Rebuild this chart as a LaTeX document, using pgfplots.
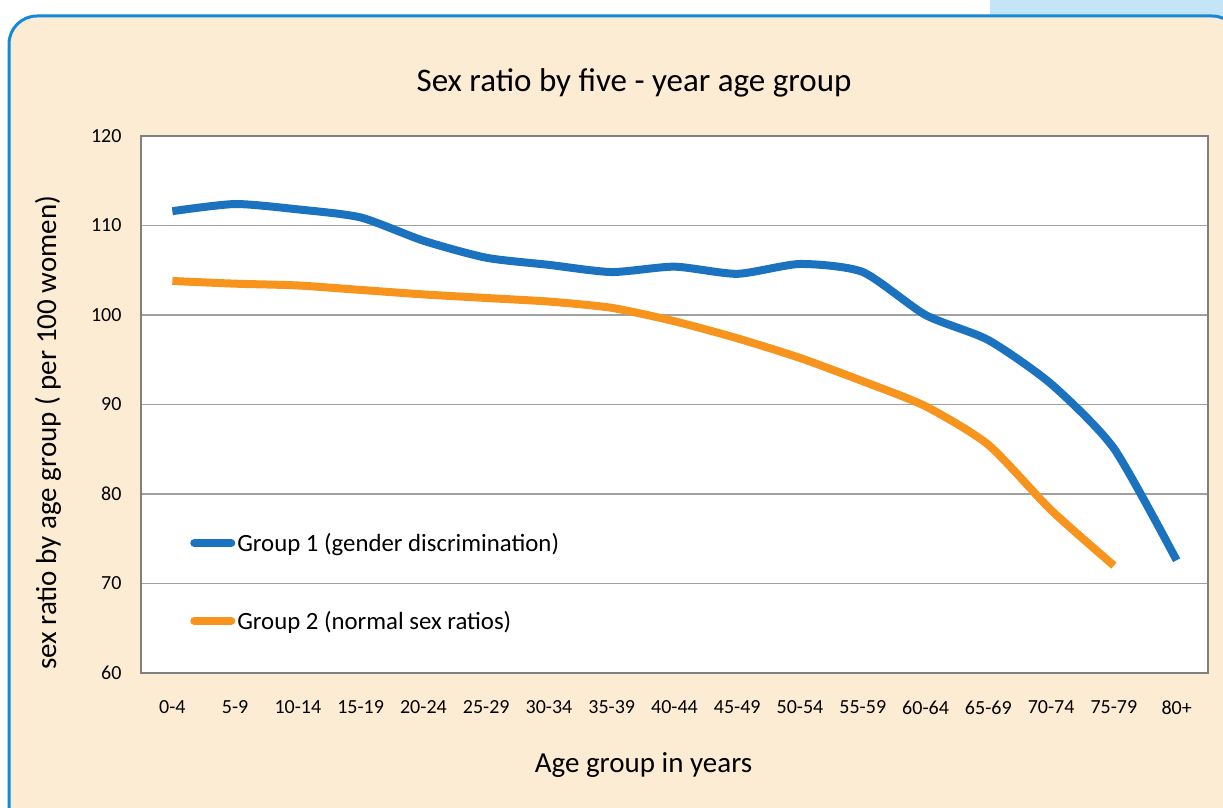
\documentclass[border=0pt]{standalone}
\usepackage{pgfplots}
\pgfplotsset{compat=1.18}
\usepackage{fontspec}
\setmainfont{Carlito}
\definecolor{panelfill}{HTML}{FDECD4}
\definecolor{panelborder}{HTML}{1589D9}
\definecolor{lightblue}{HTML}{C4E4F7}
\definecolor{gblue}{HTML}{1B72BE}
\definecolor{gorange}{HTML}{F7941D}
\definecolor{gridgray}{HTML}{A0A0A0}
\definecolor{framegray}{HTML}{808080}
\begin{document}
\begin{tikzpicture}[x=1pt,y=1pt]
\clip (0,0) rectangle (1223,808);
\fill[white] (0,0) rectangle (1223,808);
\fill[lightblue] (990,780) rectangle (1223,808);
\draw[panelborder, line width=3pt, fill=panelfill, rounded corners=28pt] (9,-30) rectangle (1240,792);
\begin{axis}[
  at={(141pt,135pt)}, anchor=south west,
  scale only axis, width=1067pt, height=537pt,
  xmin=-0.5, xmax=16.5, ymin=60, ymax=120,
  ytick={60,70,...,120},
  xtick={0,...,16},
  xticklabels={0-4,5-9,10-14,15-19,20-24,25-29,30-34,35-39,40-44,45-49,50-54,55-59,60-64,65-69,70-74,75-79,80+},
  /pgf/number format/assume math mode=true,
  tick style={draw=none},
  ymajorgrids, grid style={gridgray, line width=1.2pt},
  axis line style={framegray, line width=1.5pt},
  axis background/.style={fill=white},
  ticklabel style={font=\fontsize{20}{24}\selectfont, black},
  yticklabel style={xshift=-16pt},
  xticklabel style={yshift=-24pt},
  xlabel={Age group in years},
  ylabel={sex ratio by age group ( per 100 women)},
  label style={font=\fontsize{29}{34}\selectfont},
  xlabel style={at={(axis description cs:0.471,-0.171)}, anchor=center},
  ylabel style={at={(axis description cs:-0.0872,0.447)}, anchor=center},
  legend style={draw=none, fill=none, at={(axis description cs:0.046,0.1695)}, anchor=west,
     font=\fontsize{24.8}{29}\selectfont, inner sep=0pt, row sep=54pt, cells={anchor=west}},
  legend cell align=left,
  legend image code/.code={\draw[#1, line cap=round] (0pt,0pt) -- (37pt,0pt);},
]
\addplot[gblue, line width=8pt, line join=round, smooth, tension=0.4] coordinates {
(0,111.6) (1,112.4) (2,111.8) (3,110.9) (4,108.3) (5,106.4) (6,105.6) (7,104.8) (8,105.4) (9,104.6) (10,105.7) (11,104.8) (12,100.0) (13,97.2) (14,92.3) (15,85.1) (16,72.6)};
\addlegendentry{Group 1 (gender discrimination)}
\addplot[gorange, line width=8pt, line join=round, smooth, tension=0.4] coordinates {
(0,103.8) (1,103.5) (2,103.3) (3,102.8) (4,102.3) (5,101.9) (6,101.5) (7,100.8) (8,99.3) (9,97.4) (10,95.2) (11,92.6) (12,89.8) (13,85.5) (14,78.2) (15,72.0)};
\addlegendentry{Group 2 (normal sex ratios)}
\end{axis}
\node[font=\fontsize{33}{40}\selectfont, anchor=center] at (634,725) {Sex ratio by five - year age group};
\end{tikzpicture}
\end{document}
